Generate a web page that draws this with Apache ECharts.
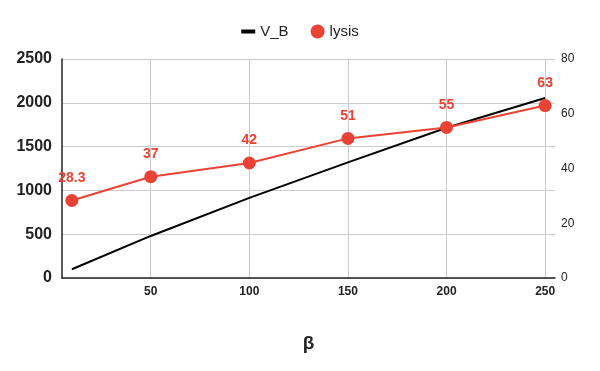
<!DOCTYPE html>
<html>
<meta charset="utf-8" />
<head>
  <script src="https://cdn.jsdelivr.net/npm/echarts@6.0.0/dist/echarts.min.js"></script>
  <style>
    body { margin: 0; background: #fff; }
    .chart { width: 600px; height: 371px; }
  </style>
</head>
<body>
  <div class="chart" id="chart"></div>
  <script>
    // data
    const beta = [10, 50, 100, 150, 200, 250];
    const vB = [100, 480, 915, 1320, 1715, 2055];
    const lysis = [28.3, 37, 42, 51, 55, 63];
    const xTicks = [50, 100, 150, 200, 250];

    const red = "#ea4335";
    const chart = echarts.init(document.getElementById("chart"));

    const option = {
      animation: false,
      textStyle: { fontFamily: "Arial, 'Liberation Sans', sans-serif" },
      legend: {
        top: 19,
        left: "center",
        itemGap: 22,
        itemWidth: 14,
        itemHeight: 14,
        textStyle: { fontSize: 15, color: "#222", fontWeight: 500 },
        data: [
          { name: "V_B", icon: "path://M0,5 L14,5 L14,9 L0,9 Z", itemStyle: { color: "#000" } },
          { name: "lysis", icon: "circle" }
        ]
      },
      grid: { left: 62, right: 45, top: 59, bottom: 93 },
      xAxis: {
        type: "value",
        min: 5,
        max: 255,
        name: "β",
        nameLocation: "middle",
        nameGap: 56,
        nameTextStyle: { fontSize: 19, fontWeight: "bold", color: "#222" },
        axisLine: { show: true, lineStyle: { color: "#222", width: 1.5 } },
        axisTick: { show: false, customValues: xTicks },
        axisLabel: {
          customValues: xTicks,
          fontSize: 12,
          fontWeight: "bold",
          color: "#222",
          margin: 8
        },
        splitLine: { show: true, lineStyle: { color: "#ccc" } }
      },
      yAxis: [
        {
          type: "value",
          min: 0,
          max: 2500,
          interval: 500,
          axisLine: { show: true, lineStyle: { color: "#222", width: 1.5 } },
          axisTick: { show: false },
          axisLabel: {
            fontSize: 16,
            fontWeight: "bold",
            color: "#222",
            margin: 10,
            formatter: (v) => String(v)
          },
          splitLine: { lineStyle: { color: "#ccc" } }
        },
        {
          type: "value",
          min: 0,
          max: 80,
          interval: 20,
          axisLine: { show: false },
          axisTick: { show: false },
          axisLabel: { fontSize: 12, color: "#222", margin: 6 },
          splitLine: { show: false }
        }
      ],
      series: [
        {
          name: "V_B",
          type: "line",
          yAxisIndex: 0,
          data: beta.map((b, i) => [b, vB[i]]),
          symbol: "none",
          color: "#000",
          lineStyle: { color: "#000", width: 2 }
        },
        {
          name: "lysis",
          type: "line",
          yAxisIndex: 1,
          data: beta.map((b, i) => [b, lysis[i]]),
          symbol: "circle",
          symbolSize: 13,
          color: red,
          lineStyle: { color: red, width: 2 },
          itemStyle: { color: red },
          label: {
            show: true,
            position: "top",
            distance: 9,
            color: red,
            fontSize: 14,
            fontWeight: "bold"
          }
        }
      ]
    };
    chart.setOption(option);
  </script>
</body>
</html>
